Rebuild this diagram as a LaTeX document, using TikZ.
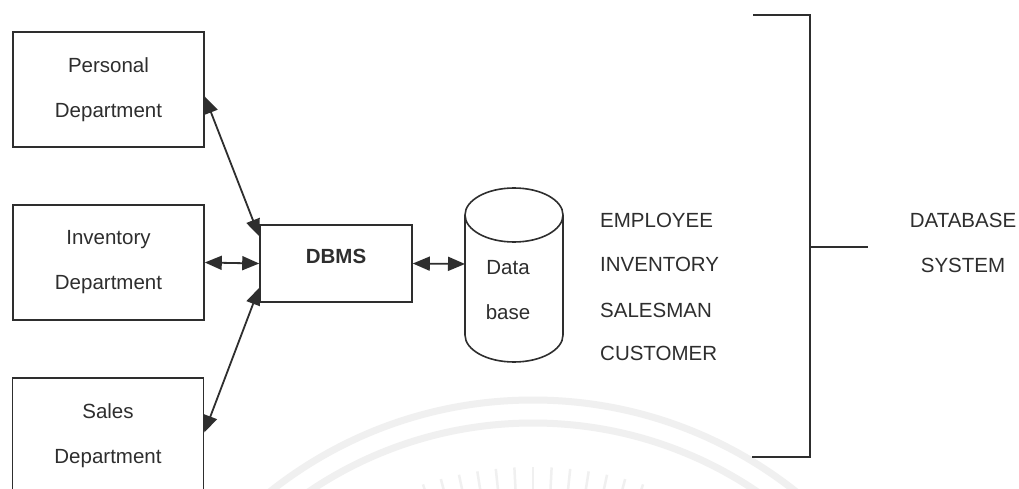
\documentclass[tikz,border=0pt]{standalone}
\usepackage{fontspec}
\setmainfont{Liberation Sans}
\usetikzlibrary{arrows.meta}
\definecolor{ink}{HTML}{2E2E2E}
\definecolor{wm}{HTML}{F0F0F0}

\begin{document}
\begin{tikzpicture}[x=1pt,y=-1pt,
  font=\fontsize{20.5}{45}\selectfont,
  box/.style={draw=ink, line width=1.6pt, minimum width=191pt, minimum height=115pt,
              inner sep=0pt, align=center, text=ink},
  link/.style={draw=ink, line width=1.8pt,
               {Triangle[length=17pt,width=14pt]}-{Triangle[length=17pt,width=14pt]}},
  lbl/.style={text=ink, inner sep=0pt, anchor=west},
  bracket/.style={draw=ink, line width=1.6pt}]

% page frame
\path[use as bounding box] (0,0) rectangle (1019,489);
\fill[white] (0,0) rectangle (1019,489);
\clip (0,0) rectangle (1019,489);

% faint seal in the background
\draw[wm, line width=7pt] (533,823) circle[radius=423];
\draw[wm, line width=7pt] (533,823) circle[radius=400];
\foreach \a in {249,252,...,291}
  \draw[wm, line width=2.5pt] (533,823) ++(\a:356) -- ++(\a:-60);

% departments
\node[box] (pers)  at (108.5,89.5)  {Personal\\Department};
\node[box] (inv)   at (108.5,262.5) {Inventory\\Department};
\node[box] (sales) at (108,435.5)   {Sales\\Department};

% DBMS
\node[box, minimum width=152pt, minimum height=77pt,
      label={[text=ink, font=\fontsize{20.5}{24}\selectfont\bfseries, yshift=7pt]center:DBMS}]
      (dbms) at (336,263.5) {};

% database cylinder
\coordinate (dbw) at (465,264);
\draw[ink, line width=1.6pt] (465,215) -- (465,335)
      arc[start angle=180, end angle=0, x radius=49, y radius=27] -- (563,215);
\draw[ink, line width=1.6pt] (514,215) ellipse[x radius=49, y radius=27];
\node[text=ink, align=center, inner sep=0pt] (dbtext) at (508,290.5) {Data\\base};

% connectors
\draw[link] ([yshift=-7pt]pers.east) -- ([yshift=-12pt]dbms.north west);
\draw[link] (inv.east) -- (dbms.west);
\draw[link] ([yshift=3pt]sales.east) -- ([yshift=15pt]dbms.south west);
\draw[link] (dbms.east) -- (dbw);

% tables held in the database
\node[lbl] (t1) at (600,220) {EMPLOYEE};
\node[lbl] (t2) at (600,264) {INVENTORY};
\node[lbl] (t3) at (600,310) {SALESMAN};
\node[lbl] (t4) at (600,353) {CUSTOMER};

% bracket grouping the whole system
\coordinate (bt0) at (753,15);
\coordinate (bt1) at (810,15);
\coordinate (bb1) at (810,457);
\coordinate (bb0) at (752,457);
\coordinate (bm0) at (810,247);
\coordinate (bm1) at (868,247);
\draw[bracket] (bt0) -- (bt1) -- (bb1) -- (bb0);
\draw[bracket] (bm0) -- (bm1);

\node[text=ink, align=center, inner sep=0pt] (sys) at (963,242.5) {DATABASE\\SYSTEM};
\end{tikzpicture}
\end{document}
